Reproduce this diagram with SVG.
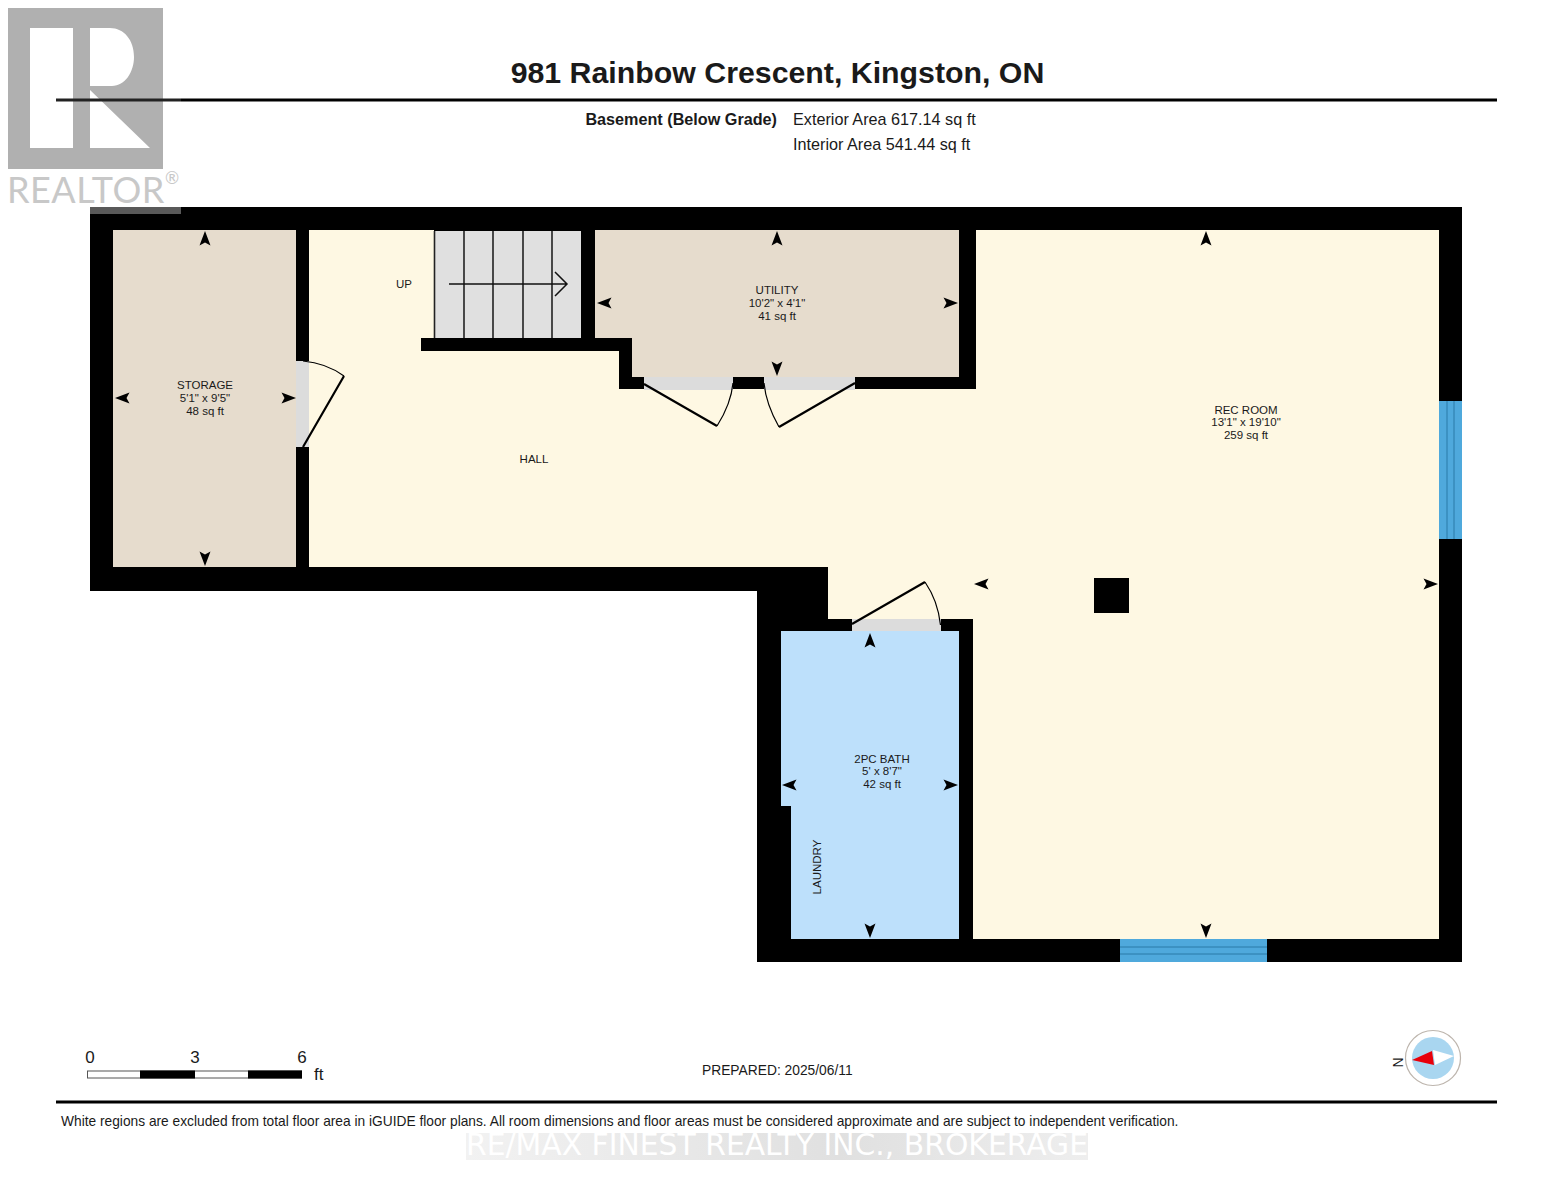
<svg xmlns="http://www.w3.org/2000/svg" width="1553" height="1200" viewBox="0 0 1553 1200">
<style>
text{font-family:"Liberation Sans",Arial,sans-serif;fill:#1a1a1a}
.room{font-size:11.500px;text-anchor:middle}
.info{font-size:16.200px}
.scale{font-size:17px}
.leaf{fill:none;stroke:#000;stroke-width:2.2}
.arc{fill:none;stroke:#000;stroke-width:1.2}
.door{fill:#dcdcdc}
.tread{stroke:#222;stroke-width:1.6}
.win{fill:#4fa9dc}
.winline{stroke:#2a7aa8;stroke-width:1}
</style>
<defs>
<path id="tick" d="M0 0L5.500 14.500L0 11.500L-5.500 14.500Z" fill="#000"/>
<linearGradient id="wm" x1="0" x2="1" y1="0" y2="0">
<stop offset="0" stop-color="#f2f2f2"/><stop offset="0.6" stop-color="#e0e0e0"/><stop offset="1" stop-color="#eeeeee"/>
</linearGradient>
</defs>
<rect width="1553" height="1200" fill="#fff"/>

<g id="header">
<line x1="181" y1="100" x2="1497" y2="100" stroke="#000" stroke-width="3"/>
<text x="777.500" y="83" font-size="30.300" font-weight="700" text-anchor="middle">981 Rainbow Crescent, Kingston, ON</text>
<text x="777" y="125" class="info" font-weight="700" text-anchor="end">Basement (Below Grade)</text>
<text x="793" y="125" class="info">Exterior Area 617.14 sq ft</text>
<text x="793" y="150" class="info">Interior Area 541.44 sq ft</text>
</g>

<g id="walls">
<path d="M90 207H1462V962H757V591H90Z" fill="#000"/>
</g>

<g id="hall">
<path d="M309 230H434V338H421V351H619V389H976V230H1439V939H973V619H828V567H309Z" fill="#fef8e3"/>
<text x="534" y="463" class="room">HALL</text>
<text x="404" y="288" class="room">UP</text>
</g>
<g id="storage">
<rect x="113" y="230" width="183" height="337" fill="#e6dccd"/>
<text class="room" x="205" y="389">STORAGE</text>
<text class="room" x="205" y="402">5'1" x 9'5"</text>
<text class="room" x="205" y="415">48 sq ft</text>
</g>
<g id="utility">
<path d="M595 230H959V377H632V338H595Z" fill="#e6dccd"/>
<text class="room" x="777" y="294">UTILITY</text>
<text class="room" x="777" y="307">10'2" x 4'1"</text>
<text class="room" x="777" y="320">41 sq ft</text>
</g>
<g id="rec-room">
<text class="room" x="1246" y="414">REC ROOM</text>
<text class="room" x="1246" y="426">13'1" x 19'10"</text>
<text class="room" x="1246" y="439">259 sq ft</text>
<rect x="1094" y="578" width="35" height="35" fill="#000"/>
</g>
<g id="bath">
<path d="M781 631H959V939H791V806H781Z" fill="#bde0fb"/>
<text class="room" x="882" y="763">2PC BATH</text>
<text class="room" x="882" y="775">5' x 8'7"</text>
<text class="room" x="882" y="788">42 sq ft</text>
<text class="room" transform="translate(821 867) rotate(-90)">LAUNDRY</text>
</g>
<g id="stairs">
<rect x="434" y="231" width="147" height="107" fill="#e0e0e0"/>
<path class="tread" d="M434.500 231V338M464 231V338M493 231V338M523 231V338M552 231V338"/>
<path d="M449 284H567M555 272L567 284L555 296" fill="none" stroke="#111" stroke-width="1.500"/>
</g>
<g id="wall-stubs">
<rect x="733" y="377" width="31" height="12" fill="#000"/>
</g>
<g id="doors">
<rect class="door" x="296" y="361" width="13" height="86"/>
<rect class="door" x="644" y="377" width="89" height="13"/>
<rect class="door" x="764" y="377" width="91" height="13"/>
<rect class="door" x="852" y="619" width="89" height="12"/>
<path class="leaf" d="M303 447L344 376M644 384L717 426M855 383L779 427M852 624L925 582"/>
<path class="arc" d="M303 361Q326 363 344 376M717 426Q731 404 733 383M764 383Q766 404 779 427M925 582Q938 601 940.500 625"/>
</g>
<g id="windows">
<rect class="win" x="1439" y="401" width="23" height="138"/>
<path class="winline" d="M1447 401V539M1454 401V539"/>
<rect class="win" x="1120" y="939" width="147" height="23"/>
<path class="winline" d="M1120 947H1267M1120 954H1267"/>
</g>
<g id="dimension-ticks">
<use href="#tick" transform="translate(205 231)"/>
<use href="#tick" transform="translate(205 566) rotate(180)"/>
<use href="#tick" transform="translate(115 398) rotate(-90)"/>
<use href="#tick" transform="translate(296 398) rotate(90)"/>
<use href="#tick" transform="translate(777 231)"/>
<use href="#tick" transform="translate(777 376) rotate(180)"/>
<use href="#tick" transform="translate(597 303) rotate(-90)"/>
<use href="#tick" transform="translate(958 303) rotate(90)"/>
<use href="#tick" transform="translate(1206 231)"/>
<use href="#tick" transform="translate(1206 938) rotate(180)"/>
<use href="#tick" transform="translate(974 584) rotate(-90)"/>
<use href="#tick" transform="translate(1438 584) rotate(90)"/>
<use href="#tick" transform="translate(870 633)"/>
<use href="#tick" transform="translate(870 938) rotate(180)"/>
<use href="#tick" transform="translate(782 785) rotate(-90)"/>
<use href="#tick" transform="translate(958 785) rotate(90)"/>
</g>

<g id="scale-bar">
<rect x="87.500" y="1071" width="214" height="7" fill="#fff" stroke="#555" stroke-width="1"/>
<rect x="140" y="1070.500" width="55" height="8" fill="#000"/>
<rect x="248" y="1070.500" width="54" height="8" fill="#000"/>
<text class="scale" x="90" y="1063" text-anchor="middle">0</text>
<text class="scale" x="195" y="1063" text-anchor="middle">3</text>
<text class="scale" x="302" y="1063" text-anchor="middle">6</text>
<text class="scale" x="314" y="1080">ft</text>
</g>
<g id="compass">
<circle cx="1433" cy="1058" r="27.500" fill="#fff" stroke="#bdb5ad" stroke-width="1.200"/>
<circle cx="1433" cy="1058" r="21" fill="#a9d6f0"/>
<path d="M1433 1050L1454 1056L1435 1065Z" fill="#fff"/>
<path d="M1412 1060L1432 1051L1434 1065Z" fill="#e8000b"/>
<text font-size="14" text-anchor="middle" transform="translate(1403 1062.500) rotate(-90)">N</text>
</g>
<g id="footer">
<text x="702" y="1075" font-size="13.800">PREPARED: 2025/06/11</text>
<line x1="56" y1="1102" x2="1497" y2="1102" stroke="#000" stroke-width="3"/>
<text x="61" y="1126" font-size="13.750">White regions are excluded from total floor area in iGUIDE floor plans. All room dimensions and floor areas must be considered approximate and are subject to independent verification.</text>
</g>
<g id="watermark">
<rect x="466" y="1133" width="622" height="27" fill="url(#wm)"/>
<text x="777" y="1155" font-size="29.800" text-anchor="middle" style="font-family:'DejaVu Sans',sans-serif;fill:#fff">RE/MAX FINEST REALTY INC., BROKERAGE</text>
</g>
<g id="realtor-logo">
<rect x="0" y="0" width="181" height="214" fill="#fff" fill-opacity="0.35"/>
<path fill-rule="evenodd" fill="#b0b0b0" d="M8 8H163V169H8ZM30 28V148H73V28ZM90 28V86H112C125 86 134 72 134 57C134 40 124 28 110 28ZM90 90V148H150Z"/>
<line x1="56" y1="100" x2="181" y2="100" stroke="#222" stroke-width="3"/>
<text x="7" y="203" font-size="36" letter-spacing="0.500" style="font-family:Lato,sans-serif;font-weight:400;fill:#c8c8c8">REALTOR</text>
<text x="165" y="184" font-size="17" style="font-family:Lato,sans-serif;font-weight:400;fill:#c8c8c8">®</text>
</g>
</svg>
